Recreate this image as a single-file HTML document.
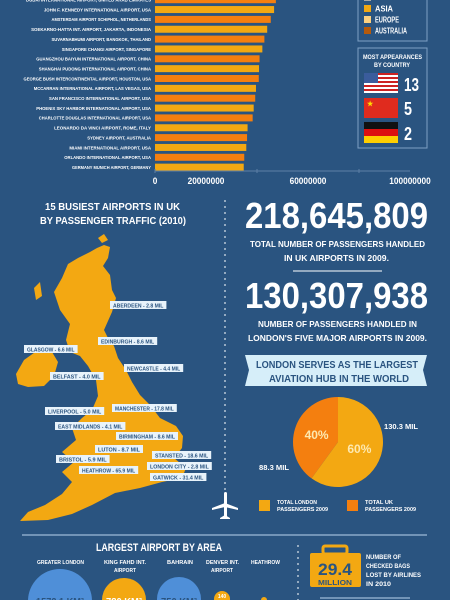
<!DOCTYPE html>
<html><head><meta charset="utf-8">
<style>
html,body{margin:0;padding:0;background:#2a5480;width:450px;height:600px;overflow:hidden}
svg{display:block}
text{font-family:"Liberation Sans Narrow","Liberation Sans",sans-serif;font-weight:bold}
</style></head>
<body>
<svg id="svg" width="450" height="600" viewBox="0 0 450 600">
<rect width="450" height="600" fill="#2a5480"/>
<g id="bars"></g>
<g id="axis"></g>

<g>
<rect x="358" y="-5" width="69" height="46" fill="none" stroke="#7d9fc4" stroke-width="1"/>
<rect x="364" y="-6" width="7" height="7" fill="#aaaaaa"/>
<rect x="364" y="5" width="7" height="7" fill="#f3a812"/><text x="375" y="11.5" font-size="8" fill="#fff" textLength="18">ASIA</text>
<rect x="364" y="16" width="7" height="7" fill="#fcd07f"/><text x="375" y="22.5" font-size="8" fill="#fff" textLength="24">EUROPE</text>
<rect x="364" y="27" width="7" height="7" fill="#b55a0b"/><text x="375" y="33.5" font-size="8" fill="#fff" textLength="32">AUSTRALIA</text>
</g>
<g>
<rect x="358" y="48" width="69" height="100" fill="none" stroke="#7d9fc4" stroke-width="1"/>
<text x="363" y="59" font-size="6.5" fill="#fff" textLength="59">MOST APPEARANCES</text>
<text x="374" y="67" font-size="6.5" fill="#fff" textLength="36">BY COUNTRY</text>
<g>
<rect x="364" y="73" width="34" height="20" fill="#fff"/>
<rect x="364" y="73" width="34" height="2" fill="#c22"/><rect x="364" y="77" width="34" height="2" fill="#c22"/><rect x="364" y="81" width="34" height="2" fill="#c22"/><rect x="364" y="85" width="34" height="2" fill="#c22"/><rect x="364" y="89" width="34" height="2" fill="#c22"/>
<rect x="364" y="73" width="14" height="10" fill="#3a5c9c"/></g>
<text x="404" y="91" font-size="18" fill="#fff" textLength="15">13</text>
<rect x="364" y="98" width="34" height="20" fill="#e02b1e"/>
<text x="367" y="106" font-size="7" fill="#ffde00">★</text>
<text x="404" y="115" font-size="18" fill="#fff" textLength="8">5</text>
<g>
<rect x="364" y="122" width="34" height="7" fill="#111"/><rect x="364" y="129" width="34" height="7" fill="#dd1010"/><rect x="364" y="136" width="34" height="7" fill="#ffce00"/></g>
<text x="404" y="140" font-size="18" fill="#fff" textLength="8">2</text>
</g>

<text x="45" y="210" font-size="10" fill="#fff" textLength="135">15 BUSIEST AIRPORTS IN UK</text>
<text x="40" y="224" font-size="10" fill="#fff" textLength="146">BY PASSENGER TRAFFIC (2010)</text>
<line x1="225" y1="200" x2="225" y2="500" stroke="#fff" stroke-width="1" stroke-dasharray="2,4"/>
<g fill="#f3a812">
<polygon points="97,248 104,245 110,247 108,258 103,266 110,275 112,290 116,298 112,312 104,330 108,338 114,346 118,358 126,370 132,382 140,395 150,405 160,418 176,426 183,436 182,448 174,458 186,468 182,478 162,482 140,488 115,493 92,505 72,514 48,520 20,521 28,512 45,505 62,494 72,482 62,472 74,462 62,452 76,440 72,428 82,418 92,410 98,396 96,380 88,366 80,356 70,352 66,340 70,324 60,310 54,292 62,278 68,264 78,258 90,252"/>
<polygon points="16,374 24,360 38,350 52,352 58,362 54,376 44,386 28,387 18,384"/>
<polygon points="34,288 40,282 42,296 36,300"/><polygon points="98,238 104,234 108,240 102,243"/>
</g>
<g id="labels"></g>
<g fill="#fff">
<rect x="224" y="492" width="3" height="26" rx="1.5"/>
<polygon points="212,508 225,503 238,508 238,510 225,507 212,510"/>
<polygon points="220,518 225,515 230,518 230,519 220,519"/>
</g>

<text x="245" y="228" font-size="36" fill="#fff" textLength="183">218,645,809</text>
<text x="250" y="247" font-size="8.5" fill="#fff" textLength="175">TOTAL NUMBER OF PASSENGERS HANDLED</text>
<text x="284" y="261" font-size="8.5" fill="#fff" textLength="105">IN UK AIRPORTS IN 2009.</text>
<line x1="293" y1="271" x2="382" y2="271" stroke="#fff" stroke-width="1"/>
<text x="245" y="308" font-size="36" fill="#fff" textLength="183">130,307,938</text>
<text x="258" y="327" font-size="8.5" fill="#fff" textLength="159">NUMBER OF PASSENGERS HANDLED IN</text>
<text x="248" y="341" font-size="8.5" fill="#fff" textLength="179">LONDON'S FIVE MAJOR AIRPORTS IN 2009.</text>
<polygon points="245,355 427,355 423,370 427,386 245,386 249,370" fill="#d6eef9"/>
<text x="256" y="368" font-size="10" fill="#2a5480" textLength="162">LONDON SERVES AS THE LARGEST</text>
<text x="269" y="382" font-size="10" fill="#2a5480" textLength="140">AVIATION HUB IN THE WORLD</text>
<g id="pie"></g>
<text x="384" y="429" font-size="7" fill="#fff" textLength="34">130.3 MIL</text>
<text x="259" y="470" font-size="7" fill="#fff" textLength="30">88.3 MIL</text>
<rect x="259" y="500" width="11" height="11" fill="#f3a812"/>
<text x="277" y="504" font-size="5.5" fill="#fff" textLength="40">TOTAL LONDON</text><text x="277" y="511" font-size="5.5" fill="#fff" textLength="51">PASSENGERS 2009</text>
<rect x="347" y="500" width="11" height="11" fill="#f47f0f"/>
<text x="365" y="504" font-size="5.5" fill="#fff" textLength="28">TOTAL UK</text><text x="365" y="511" font-size="5.5" fill="#fff" textLength="51">PASSENGERS 2009</text>

<line x1="22" y1="535" x2="427" y2="535" stroke="#b9d3ee" stroke-width="1"/>
<text x="96" y="551" font-size="11" fill="#fff" textLength="126">LARGEST AIRPORT BY AREA</text>
<g font-size="5.5" fill="#fff">
<text x="37" y="564" textLength="47">GREATER LONDON</text>
<text x="104" y="564" textLength="42">KING FAHD INT.</text><text x="114" y="572" textLength="22">AIRPORT</text>
<text x="167" y="564" textLength="26">BAHRAIN</text>
<text x="206" y="564" textLength="33">DENVER INT.</text><text x="211" y="572" textLength="22">AIRPORT</text>
<text x="251" y="564" textLength="29">HEATHROW</text>
</g>
<circle cx="60" cy="601" r="32" fill="#4f8fd8"/>
<circle cx="124" cy="600" r="22" fill="#f3a812"/>
<circle cx="179" cy="599" r="22" fill="#4f8fd8"/>
<circle cx="222" cy="599" r="8" fill="#f3a812"/>
<circle cx="264" cy="600" r="3" fill="#f3a812"/>
<text x="36" y="605" font-size="10" fill="#2a5480" textLength="48">1572.1 KM²</text>
<text x="106" y="605" font-size="10" fill="#fff" textLength="36">780 KM²</text>
<text x="161" y="605" font-size="10" fill="#2a5480" textLength="36">750 KM²</text>
<text x="222" y="598" font-size="5" fill="#fff" text-anchor="middle">140</text>
<line x1="298" y1="545" x2="298" y2="600" stroke="#fff" stroke-width="1" stroke-dasharray="2,4"/>
<g>
<rect x="323" y="546" width="24" height="8" rx="2" fill="none" stroke="#f3a812" stroke-width="3"/>
<rect x="310" y="553" width="51" height="34" rx="2" fill="#f3a812"/>
<text x="318" y="575" font-size="17" fill="#2a5480" textLength="34">29.4</text>
<text x="318" y="585" font-size="7" fill="#2a5480" textLength="34">MILLION</text>
</g>
<g font-size="6.5" fill="#fff"><text x="366" y="559" textLength="35">NUMBER OF</text><text x="366" y="568" textLength="44">CHECKED BAGS</text><text x="366" y="577" textLength="55">LOST BY AIRLINES</text><text x="366" y="586" textLength="25">IN 2010</text></g>
<line x1="320" y1="598" x2="410" y2="598" stroke="#b9d3ee" stroke-width="1"/>
</svg>
<script>
const airports=["DUBAI INTERNATIONAL AIRPORT, UNITED ARAB EMIRATES","JOHN F. KENNEDY INTERNATIONAL AIRPORT, USA","AMSTERDAM AIRPORT SCHIPHOL, NETHERLANDS","SOEKARNO-HATTA INT. AIRPORT, JAKARTA, INDONESIA","SUVARNABHUMI AIRPORT, BANGKOK, THAILAND","SINGAPORE CHANGI AIRPORT, SINGAPORE","GUANGZHOU BAIYUN INTERNATIONAL AIRPORT, CHINA","SHANGHAI PUDONG INTERNATIONAL AIRPORT, CHINA","GEORGE BUSH INTERCONTINENTAL AIRPORT, HOUSTON, USA","MCCARRAN INTERNATIONAL AIRPORT, LAS VEGAS, USA","SAN FRANCISCO INTERNATIONAL AIRPORT, USA","PHOENIX SKY HARBOR INTERNATIONAL AIRPORT, USA","CHARLOTTE DOUGLAS INTERNATIONAL AIRPORT, USA","LEONARDO DA VINCI AIRPORT, ROME, ITALY","SYDNEY AIRPORT, AUSTRALIA","MIAMI INTERNATIONAL AIRPORT, USA","ORLANDO INTERNATIONAL AIRPORT, USA","GERMANY MUNICH AIRPORT, GERMANY"];
const passengers=[47.4,46.7,45.4,44.0,42.9,42.1,41.0,40.8,40.7,39.6,39.3,38.7,38.3,36.3,36.1,35.8,35.0,34.8];
const tickLabels=["0","20000000","60000000","100000000"];
const tickValues=[0,20,60,100];
const pieLabels=["40%","60%"];
const pieValues=[40,60];
const ukLabels=["ABERDEEN - 2.8 MIL","EDINBURGH - 8.6 MIL","GLASGOW - 6.6 MIL","NEWCASTLE - 4.4 MIL","BELFAST - 4.0 MIL","MANCHESTER - 17.8 MIL","LIVERPOOL - 5.0 MIL","EAST MIDLANDS - 4.1 MIL","BIRMINGHAM - 8.6 MIL","LUTON - 8.7 MIL","STANSTED - 18.6 MIL","BRISTOL - 5.9 MIL","LONDON CITY - 2.8 MIL","HEATHROW - 65.9 MIL","GATWICK - 31.4 MIL"];
const NS="http://www.w3.org/2000/svg";
function mk(t,a,p){const e=document.createElementNS(NS,t);for(const k in a)e.setAttribute(k,a[k]);p.appendChild(e);return e;}
const x0=155,pxPerM=2.55;
function xs(v){return x0+v*pxPerM;}
function ys(i){return -0.3+i*9.85;}
const bars=document.getElementById('bars');
passengers.forEach((v,i)=>{
 const r=mk('rect',{x:x0,y:ys(i)-3.5,width:xs(v)-x0,height:7,fill:i%2?'#f3a812':'#f47f0f'},bars);
 
 
 const w=airports[i].length*2.55;
 const t=mk('text',{x:151-w,y:ys(i)+1.8,'font-size':4.3,fill:'#fff',textLength:w},bars);
 t.textContent=airports[i];
 
 
});
const ax=document.getElementById('axis');
mk('line',{x1:x0,y1:171,x2:xs(100),y2:171,stroke:'#5d7fa6','stroke-width':1},ax);
[0,40,80].forEach(v=>mk('line',{x1:xs(v),y1:169,x2:xs(v),y2:173,stroke:'#5d7fa6'},ax));
tickValues.forEach((v,i)=>{
 const w=tickLabels[i].length*4.6;
 const t=mk('text',{x:xs(v)-w/2,y:184,'font-size':9,fill:'#fff',textLength:w},ax);
 t.textContent=tickLabels[i];
 
 
});
const pie=document.getElementById('pie');
const cx=338,cy=442,R=45;let acc=0;const tot=pieValues.reduce((a,b)=>a+b,0);
const cols=['#f47f0f','#f3a812'];
pieValues.forEach((v,i)=>{
 const a0=-Math.PI/2-acc/tot*2*Math.PI, a1=-Math.PI/2-(acc+v)/tot*2*Math.PI;
 const large=v/tot>0.5?1:0;
 const d=`M${cx},${cy} L${cx+R*Math.cos(a0)},${cy+R*Math.sin(a0)} A${R},${R} 0 ${large} 0 ${cx+R*Math.cos(a1)},${cy+R*Math.sin(a1)} Z`;
 const p=mk('path',{d:d,fill:cols[i]},pie);
 
 
 const am=(a0+a1)/2;
 const t=mk('text',{x:cx+R*0.5*Math.cos(am),y:cy+R*0.5*Math.sin(am)+4,'font-size':12,fill:'#fde9b0','text-anchor':'middle'},pie);
 t.textContent=pieLabels[i];
 acc+=v;
});
const pos=[[110,305],[98,341],[24,349],[124,368],[50,376],[112,408],[45,411],[55,426],[116,436],[95,449],[152,455],[56,459],[147,466],[79,470],[150,477]];
const lg=document.getElementById('labels');
ukLabels.forEach((s,i)=>{
 const w=s.length*2.8;
 mk('rect',{x:pos[i][0],y:pos[i][1]-4,width:w+6,height:8,fill:'#e8f3fb'},lg);
 const t=mk('text',{x:pos[i][0]+3,y:pos[i][1]+2.5,'font-size':5.8,fill:'#2a5480',textLength:w},lg);
 t.textContent=s;
 
 
});
document.querySelectorAll('text[textLength]').forEach(t=>t.setAttribute('lengthAdjust','spacingAndGlyphs'));
</script>
</body></html>
